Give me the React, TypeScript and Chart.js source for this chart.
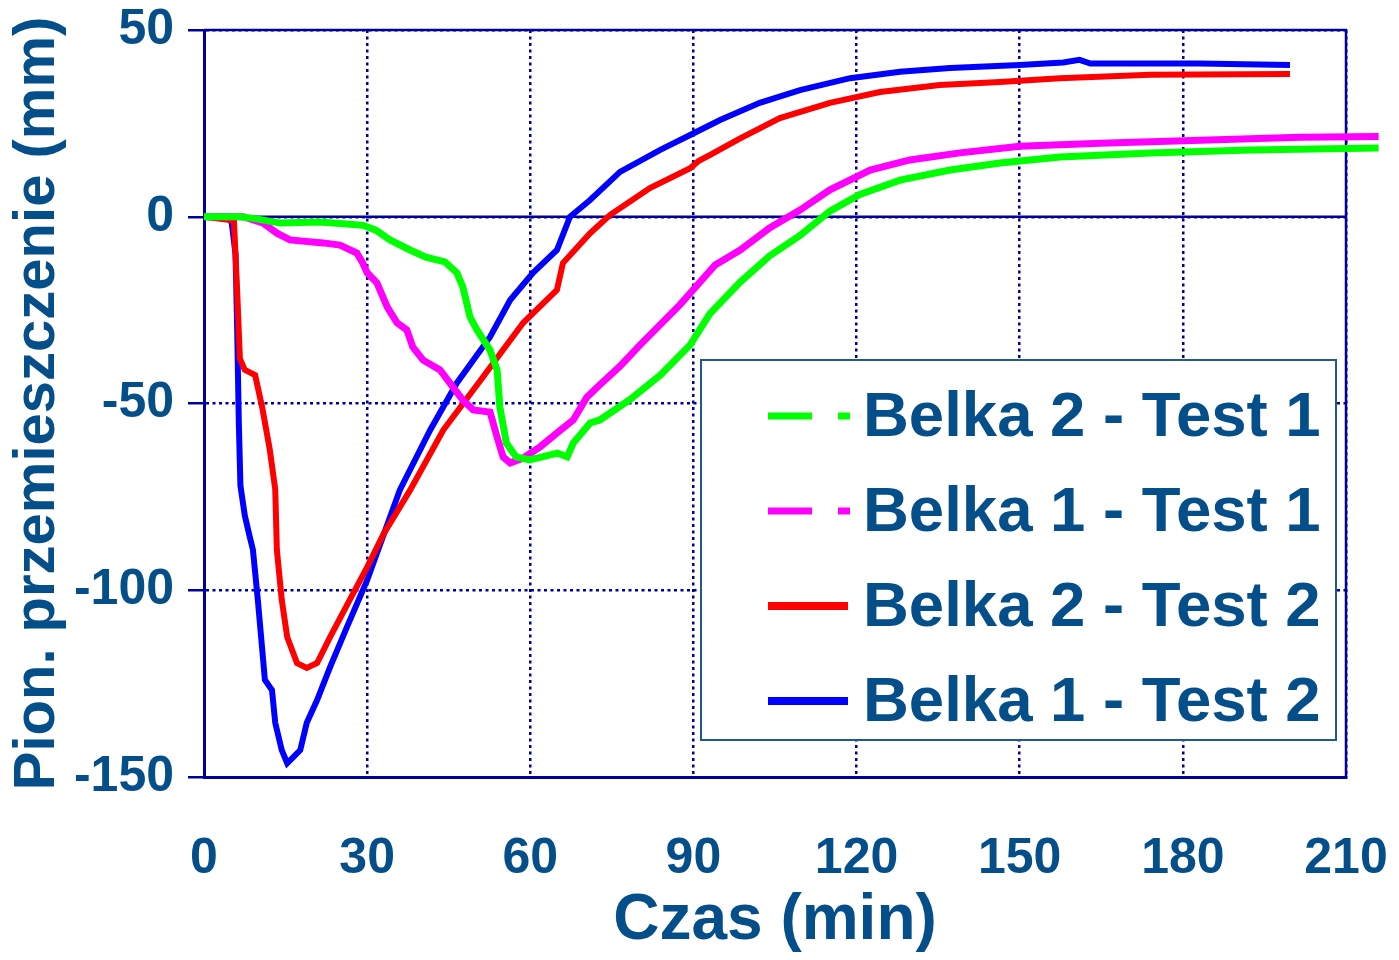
import React, { useEffect, useRef } from "react";
import { Chart, registerables } from "chart.js";

Chart.register(...registerables);

// ---- Data ----
const seriesLabels = ["Belka 2 - Test 1", "Belka 1 - Test 1", "Belka 2 - Test 2", "Belka 1 - Test 2"];
const seriesColors = ["#00FF00", "#FF00FF", "#FF0000", "#0000FF"];

const xTicks = [0, 30, 60, 90, 120, 150, 180, 210];
const yTicks = [50, 0, -50, -100, -150];

// Belka 2 - Test 1 (green)
const b2t1Time = [0, 6.6, 9.4, 14, 21.3, 26.8, 29.3, 31.6, 34.2, 37.9, 40.8, 44.3, 46.5, 47.6, 48.9, 50.2, 52.6, 53.9, 54.4, 55.6, 57.4, 59.9, 65, 66.8, 67.9, 71, 72.8, 78.3, 83.9, 89.4, 93, 98.6, 104, 109.6, 115.1, 120.6, 128, 137.2, 146.4, 157.4, 174, 192.4, 216];
const b2t1Val = [0, 0, -0.5, -1.7, -1.4, -2.0, -2.3, -3.6, -6.2, -8.9, -10.8, -12.1, -15, -18.8, -26.8, -30.3, -35.7, -41, -50.9, -60.6, -64.3, -65.1, -63.3, -64.3, -60.6, -55.2, -54.4, -49, -42.4, -34.3, -26, -17.5, -10.5, -5, 1.5, 6, 9.8, 12.5, 14.4, 16, 17.1, 17.9, 18.4];

// Belka 1 - Test 1 (magenta)
const b1t1Time = [0, 7.2, 10.9, 13.4, 15.8, 21.9, 25, 28.1, 29.2, 30, 31.8, 33.7, 35.5, 37.3, 38.4, 40.3, 43.4, 45.2, 47.6, 49.5, 52.6, 53.9, 55, 56.3, 58.7, 61.8, 64.9, 67.9, 70.4, 72.8, 76.5, 80.2, 87.5, 94, 98.6, 104, 109.6, 115.1, 122.5, 129.8, 139, 150, 164.8, 183.2, 201.5, 216];
const b1t1Val = [0, 0, -1.7, -4.4, -6.2, -7, -7.6, -9.7, -12.4, -15, -17.7, -24.2, -28.4, -30.3, -34.9, -38.4, -41, -44.5, -49.1, -51.7, -52.3, -59, -64.3, -65.9, -64.6, -61.6, -57.9, -54.4, -48.3, -45, -40, -34.3, -23.6, -12.9, -8.9, -3, 1.8, 7.2, 12.5, 15.2, 17.1, 18.9, 19.7, 20.5, 21.3, 21.5];

// Belka 2 - Test 2 (red)
const b2t2Time = [0, 5.5, 6.1, 6.6, 7.5, 9.4, 10.7, 12.1, 13.1, 13.4, 14.3, 15.3, 17.1, 18.9, 20.8, 23.2, 26.8, 30, 33, 37.9, 44, 51.3, 58.7, 64.9, 66, 71, 74.7, 82, 89.4, 91, 93, 98.6, 105.9, 115.1, 124.3, 135.3, 146.4, 157.4, 174, 199.7];
const b2t2Val = [0, -1, -20, -38, -41, -42.4, -51, -62.4, -73, -89.2, -102.6, -112.5, -119.5, -120.8, -119.5, -112.5, -102.6, -93.8, -85, -73.2, -57.1, -42.9, -28.4, -19.6, -12.4, -4.4, 0.5, 7.7, 13, 15, 16.5, 21, 26.4, 30.5, 33.4, 35.3, 36.1, 37.1, 38, 38.2];

// Belka 1 - Test 2 (blue)
const b1t2Time = [0, 4.5, 5.1, 5.8, 6.1, 6.4, 6.7, 7.5, 8.3, 9.0, 9.9, 11.2, 12.5, 13.1, 14.3, 15.3, 16.2, 17.7, 18.9, 20.8, 23.2, 26.3, 30, 36, 41.6, 46.5, 52.6, 56.3, 60.5, 64.9, 67.3, 71, 76.5, 83.9, 89.4, 94.9, 102.2, 109.6, 118.8, 128, 137.2, 150, 158, 161, 163, 183, 199.7];
const b1t2Val = [0, 0, -1.7, -10, -30, -55, -72, -80, -85, -89.2, -102.6, -124, -126.7, -135.5, -142.8, -146.3, -145, -142.8, -135.5, -129.4, -120.5, -109.8, -97.3, -73.2, -57.1, -44.5, -32.2, -22.3, -15, -8.9, 0, 4.5, 12, 17.9, 21.9, 25.9, 30.5, 33.9, 37.1, 38.8, 39.8, 40.6, 41.3, 42, 41, 41, 40.6];

const xTitle = "Czas (min)";
const yTitle = "Pion. przemieszczenie (mm)";

// ---- Styles ----
const NAVY = "#00009C";
const TEXT = "#044E8A";
const FONT = "'Liberation Sans', Arial, sans-serif";

const toPoints = (t: number[], v: number[]) => t.map((x, i) => ({ x, y: v[i] }));

const framePlugin = {
  id: "frame",
  beforeDatasetsDraw(chart: any) {
    const { ctx, chartArea, scales } = chart;
    const y0 = scales.y.getPixelForValue(0);
    ctx.save();
    ctx.strokeStyle = NAVY;
    ctx.lineWidth = 2.5;
    ctx.setLineDash([]);
    ctx.beginPath();
    ctx.moveTo(chartArea.left, y0);
    ctx.lineTo(chartArea.right, y0);
    ctx.moveTo(chartArea.left, chartArea.top);
    ctx.lineTo(chartArea.right, chartArea.top);
    ctx.lineTo(chartArea.right, chartArea.bottom);
    ctx.stroke();
    ctx.restore();
  },
};

const legendPlugin = {
  id: "boxLegend",
  afterDatasetsDraw(chart: any) {
    const { ctx } = chart;
    const bx = 701, by = 360, bw = 635, bh = 380;
    ctx.save();
    ctx.fillStyle = "#FFFFFF";
    ctx.fillRect(bx, by, bw, bh);
    ctx.strokeStyle = "#1F5A8C";
    ctx.lineWidth = 2;
    ctx.strokeRect(bx, by, bw, bh);
    chart.data.datasets.forEach((ds: any, i: number) => {
      const cy = by + 56 + i * 95;
      ctx.strokeStyle = ds.borderColor;
      ctx.lineWidth = i < 2 ? 7 : 8;
      ctx.setLineDash(i < 2 ? [44, 26] : []);
      ctx.beginPath();
      ctx.moveTo(768, cy);
      ctx.lineTo(i < 2 ? 850 : 848, cy);
      ctx.stroke();
      ctx.setLineDash([]);
      ctx.fillStyle = TEXT;
      ctx.font = `bold 63.5px ${FONT}`;
      ctx.textBaseline = "middle";
      ctx.textAlign = "left";
      ctx.fillText(ds.label, 863, cy + 2);
    });
    ctx.restore();
  },
};

export default function App() {
  const ref = useRef<HTMLCanvasElement | null>(null);

  useEffect(() => {
    if (!ref.current) return;
    const series = [
      toPoints(b2t1Time, b2t1Val),
      toPoints(b1t1Time, b1t1Val),
      toPoints(b2t2Time, b2t2Val),
      toPoints(b1t2Time, b1t2Val),
    ];
    const chart = new Chart(ref.current, {
      type: "line",
      data: {
        datasets: series.map((pts, i) => ({
          label: seriesLabels[i],
          data: pts,
          borderColor: seriesColors[i],
          backgroundColor: seriesColors[i],
          borderWidth: i < 2 ? 7 : 6,
          pointRadius: 0,
          tension: 0,
          fill: false,
          clip: false as any,
        })),
      },
      options: {
        animation: false,
        responsive: false,
        layout: { padding: { top: 30, right: 53, left: 0, bottom: 0 } },
        plugins: {
          legend: { display: false },
          tooltip: { enabled: false },
        },
        scales: {
          x: {
            type: "linear",
            min: 0,
            max: 210,
            afterBuildTicks: (s: any) => {
              s.ticks = xTicks.map((v) => ({ value: v }));
            },
            afterFit: (s: any) => {
              s.height = 183;
              s.paddingLeft = 0;
              s.paddingRight = 0;
            },
            ticks: {
              color: TEXT,
              font: { family: FONT, size: 50, weight: "bold" },
              padding: 52,
              maxRotation: 0,
              autoSkip: false,
            },
            grid: {
              color: NAVY,
              lineWidth: 2.5,
              drawTicks: false,
            },
            border: { display: true, color: NAVY, width: 3, dash: [3, 3.5] },
            title: {
              display: true,
              text: xTitle,
              color: TEXT,
              font: { family: FONT, size: 64, weight: "bold" },
              padding: { top: 0, bottom: 0 },
            },
          },
          y: {
            type: "linear",
            min: -150,
            max: 50,
            afterBuildTicks: (s: any) => {
              s.ticks = yTicks.map((v) => ({ value: v }));
            },
            afterFit: (s: any) => {
              s.width = 204;
              s.paddingTop = 0;
              s.paddingBottom = 0;
            },
            ticks: {
              color: TEXT,
              font: { family: FONT, size: 50, weight: "bold" },
              padding: 14,
              autoSkip: false,
            },
            grid: {
              color: NAVY,
              lineWidth: 2.5,
              drawTicks: true,
              tickLength: 16,
              tickColor: NAVY,
              tickWidth: 2.5,
            },
            border: { display: true, color: NAVY, width: 3, dash: [3, 3.5] },
            title: {
              display: true,
              text: yTitle,
              color: TEXT,
              font: { family: FONT, size: 58, weight: "bold" },
              padding: { top: 3, bottom: 0 },
            },
          },
        },
      },
      plugins: [framePlugin, legendPlugin],
    });
    return () => chart.destroy();
  }, []);

  return (
    <div style={{ position: "fixed", left: 0, top: 0, width: 1399, height: 960, background: "#FFFFFF" }}>
      <canvas ref={ref} width={1399} height={960} style={{ display: "block" }} />
    </div>
  );
}
